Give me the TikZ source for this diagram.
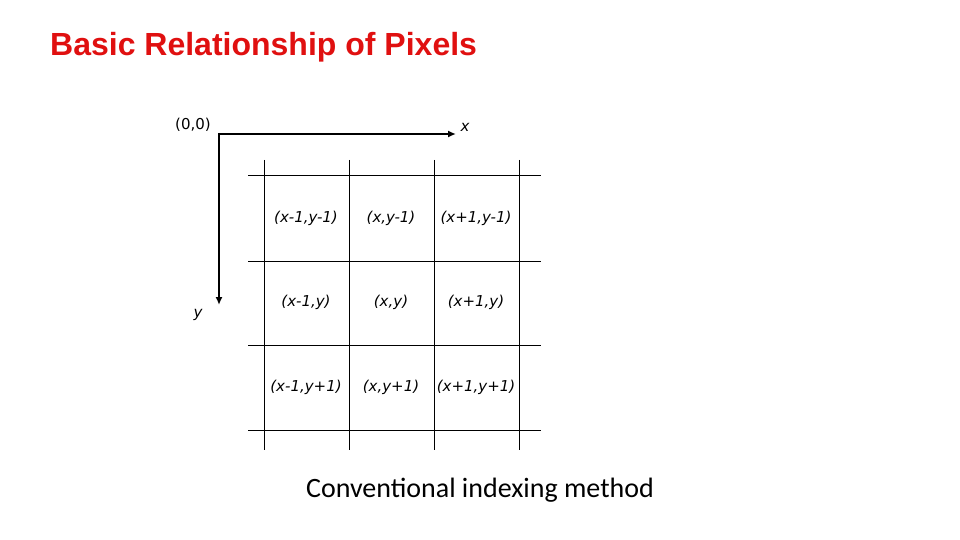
\documentclass[tikz,border=0pt]{standalone}
\usepackage{fontspec}
\setmainfont{DejaVu Sans}
\newfontfamily\titlefont{Liberation Sans}
\newfontfamily\calfont{Carlito}
\usetikzlibrary{arrows.meta}
\definecolor{titlered}{RGB}{224,16,16}
\tikzset{
  axis/.style={line width=2.2pt,-{Latex[length=8pt,width=7pt]}},
  grid line/.style={line width=1pt},
  cell/.style={font=\fontsize{15}{17}\selectfont\itshape},
  lab/.style={font=\fontsize{15}{17}\selectfont}
}
\begin{document}
\begin{tikzpicture}[x=1pt,y=-1pt]
\useasboundingbox (0,0) rectangle (960,540);
\node[font=\titlefont\bfseries\fontsize{32}{36}\selectfont, text=titlered, anchor=west, inner sep=0pt] (title) at (50,47) {Basic Relationship of Pixels};
% axes
\coordinate (o) at (219,134);
\coordinate (xe) at (456,134);
\coordinate (ye) at (219,305);
\draw[axis] (o) -- (xe);
\draw[axis] (219,133) -- (ye);
\node[lab] (origin) at (193,125) {(0,0)};
\node[font=\fontsize{15}{17}\selectfont\itshape] (xl) at (465,127) {x};
\node[font=\fontsize{15}{17}\selectfont\itshape] (yl) at (198,315) {y};
% grid
\foreach \gx in {264,349,434,519} \draw[grid line] (\gx,160) -- (\gx,450);
\foreach \gy in {176,261,345,430} \draw[grid line] (248,\gy) -- (541,\gy);
% cells
\node[cell] (c11) at (306,218) {(x-1,y-1)};
\node[cell] (c12) at (391,218) {(x,y-1)};
\node[cell] (c13) at (476,218) {(x+1,y-1)};
\node[cell] (c21) at (306,302) {(x-1,y)};
\node[cell] (c22) at (391,302) {(x,y)};
\node[cell] (c23) at (476,302) {(x+1,y)};
\node[cell] (c31) at (306,387) {(x-1,y+1)};
\node[cell] (c32) at (391,387) {(x,y+1)};
\node[cell] (c33) at (476,387) {(x+1,y+1)};
\node[font=\calfont\fontsize{28}{32}\selectfont] (cap) at (480,490) {Conventional indexing method};
\end{tikzpicture}
\end{document}
